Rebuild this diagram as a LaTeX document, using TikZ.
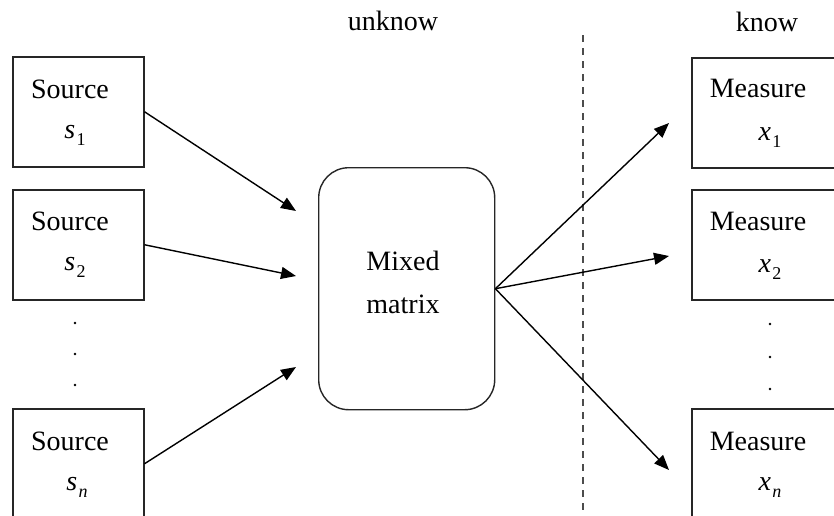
\documentclass[tikz,border=0pt]{standalone}
\usepackage{fontspec}
\setmainfont{Liberation Serif}
\usetikzlibrary{arrows.meta}
% subscript placed below the baseline, smaller size
\newcommand\lowsub[1]{\kern1.5pt\raisebox{-7pt}{\fontsize{18}{20}\selectfont #1}}
\begin{document}
\begin{tikzpicture}[x=1pt,y=-1pt,
  box/.style={draw=black!85, line width=1.5pt, minimum width=131pt,
    minimum height=110pt, inner sep=0pt, anchor=north west},
  mixbox/.style={draw=black!85, line width=1.4pt, rounded corners=30pt,
    minimum width=176pt, minimum height=242pt, inner sep=0pt, anchor=north west},
  txt/.style={anchor=base, inner sep=0pt, font=\fontsize{28}{32}\selectfont},
  link/.style={line width=1.4pt, -{Triangle[length=15pt,width=12pt]}},
  dot/.style={fill=black, circle, inner sep=0pt, minimum size=2.8pt}]
\useasboundingbox (0,0) rectangle (834,515);

% source boxes
\node[box] (src1) at (12,56) {};
\node[box] (src2) at (12,189) {};
\node[box] (srcn) at (12,408) {};
\node[txt] (src1a) at (70,98) {Source};
\node[txt] (src1b) at (75,138) {\textit{s}\lowsub{1}};
\node[txt] (src2a) at (70,230) {Source};
\node[txt] (src2b) at (75,270) {\textit{s}\lowsub{2}};
\node[txt] (srcna) at (70,450) {Source};
\node[txt] (srcnb) at (77,490) {\textit{s}\lowsub{\textit{n}}};

% vertical ellipsis between sources
\node[dot] (ld1) at (75,323) {};
\node[dot] (ld2) at (75,354) {};
\node[dot] (ld3) at (75,385) {};

% mixing block
\node[mixbox] (mix) at (318,167) {};
\node[txt] (mixa) at (403,270) {Mixed};
\node[txt] (mixb) at (403,313) {matrix};

% measurement boxes
\node[box, minimum width=150pt] (mes1) at (691,57) {};
\node[box, minimum width=150pt] (mes2) at (691,189) {};
\node[box, minimum width=150pt] (mesn) at (691,408) {};
\node[txt] (mes1a) at (758,97) {Measure};
\node[txt] (mes1b) at (770,140) {\textit{x}\lowsub{1}};
\node[txt] (mes2a) at (758,230) {Measure};
\node[txt] (mes2b) at (770,272) {\textit{x}\lowsub{2}};
\node[txt] (mesna) at (758,450) {Measure};
\node[txt] (mesnb) at (770,490) {\textit{x}\lowsub{\textit{n}}};

% vertical ellipsis between measurements
\node[dot] (rd1) at (770,324) {};
\node[dot] (rd2) at (770,357) {};
\node[dot] (rd3) at (770,389) {};

% headings and separator
\node[txt] (unk) at (393,30) {unknow};
\node[txt] (kn) at (767,31) {know};
\coordinate (sepTop) at (583,35);
\coordinate (sepBot) at (583,520);
\draw[black!70, line width=1.5pt, dash pattern=on 7pt off 6pt] (sepTop) -- (sepBot);

% arrow tips
\coordinate (in1) at (296,211);
\coordinate (in2) at (296,276);
\coordinate (inn) at (296,367);
\coordinate (out1) at (669,123);
\coordinate (out2) at (669,256);
\coordinate (outn) at (669,470);

\draw[link] (src1.east) -- (in1);
\draw[link] (src2.east) -- (in2);
\draw[link] (srcn.east) -- (inn);
\draw[link] (mix.east) -- (out1);
\draw[link] (mix.east) -- (out2);
\draw[link] (mix.east) -- (outn);
\end{tikzpicture}
\end{document}
